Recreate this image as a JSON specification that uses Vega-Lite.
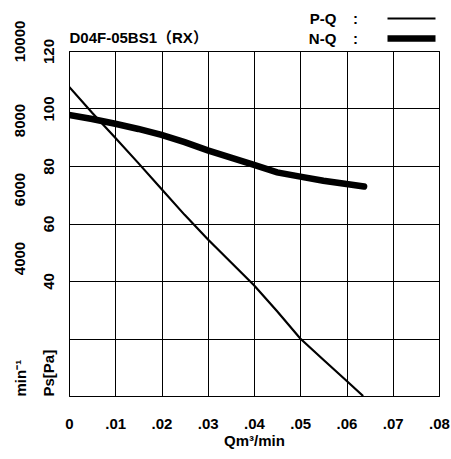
{
  "$schema": "https://vega.github.io/schema/vega-lite/v6.json",
  "autosize": {"type": "none"},
  "padding": {"left": 69, "top": 51, "right": 12, "bottom": 63},
  "width": 370,
  "height": 345,
  "background": "white",
  "config": {
    "view": {"stroke": "black", "strokeWidth": 1},
    "font": "Liberation Sans",
    "axis": {"labelFont": "Liberation Sans", "titleFont": "Liberation Sans", "labelColor": "black", "titleColor": "black"}
  },
  "datasets": {
    "pq": [
      {"q": 0, "p": 107.6, "series": "P-Q"},
      {"q": 0.005, "p": 98.5, "series": "P-Q"},
      {"q": 0.01, "p": 89.8, "series": "P-Q"},
      {"q": 0.015, "p": 81, "series": "P-Q"},
      {"q": 0.02, "p": 72, "series": "P-Q"},
      {"q": 0.025, "p": 63, "series": "P-Q"},
      {"q": 0.03, "p": 54.5, "series": "P-Q"},
      {"q": 0.035, "p": 46.5, "series": "P-Q"},
      {"q": 0.04, "p": 38.5, "series": "P-Q"},
      {"q": 0.045, "p": 29.5, "series": "P-Q"},
      {"q": 0.05, "p": 20, "series": "P-Q"},
      {"q": 0.055, "p": 12.6, "series": "P-Q"},
      {"q": 0.06, "p": 5.3, "series": "P-Q"},
      {"q": 0.0636, "p": 0, "series": "P-Q"}
    ],
    "nq": [
      {"q": 0, "rpm": 8150, "series": "N-Q"},
      {"q": 0.005, "rpm": 8030, "series": "N-Q"},
      {"q": 0.01, "rpm": 7890, "series": "N-Q"},
      {"q": 0.015, "rpm": 7740, "series": "N-Q"},
      {"q": 0.02, "rpm": 7570, "series": "N-Q"},
      {"q": 0.025, "rpm": 7360, "series": "N-Q"},
      {"q": 0.03, "rpm": 7120, "series": "N-Q"},
      {"q": 0.035, "rpm": 6910, "series": "N-Q"},
      {"q": 0.04, "rpm": 6700, "series": "N-Q"},
      {"q": 0.045, "rpm": 6480, "series": "N-Q"},
      {"q": 0.05, "rpm": 6360, "series": "N-Q"},
      {"q": 0.055, "rpm": 6240, "series": "N-Q"},
      {"q": 0.06, "rpm": 6145, "series": "N-Q"},
      {"q": 0.0638, "rpm": 6070, "series": "N-Q"}
    ]
  },
  "layer": [
    {
      "data": {"name": "pq"},
      "mark": {"type": "line", "color": "black", "clip": true},
      "encoding": {
        "x": {
          "field": "q", "type": "quantitative",
          "scale": {"domain": [0, 0.08], "nice": false, "zero": false},
          "axis": {
            "orient": "bottom",
            "values": [0, 0.01, 0.02, 0.03, 0.04, 0.05, 0.06, 0.07, 0.08],
            "labelExpr": "datum.value == 0 ? '0' : replace(format(datum.value, '.2f'), '0.', '.')",
            "title": "Qm³/min",
            "titleFontSize": 15, "titleFontWeight": "bold",
            "titleBaseline": "alphabetic", "titleY": 49,
            "labelFontSize": 15, "labelFontWeight": "bold",
            "labelBaseline": "alphabetic", "labelPadding": 32,
            "labelFlush": false, "labelOverlap": false,
            "ticks": false, "domain": false,
            "grid": true, "gridColor": "black", "gridOpacity": 1, "gridWidth": 1
          }
        },
        "y": {
          "field": "p", "type": "quantitative",
          "scale": {"domain": [0, 120], "nice": false},
          "axis": {
            "values": [0, 20, 40, 60, 80, 100, 120],
            "labelExpr": "datum.value < 40 ? '' : datum.label",
            "labelAngle": -90, "labelAlign": "center", "labelBaseline": "alphabetic",
            "labelPadding": 16, "labelFontSize": 15, "labelFontWeight": "bold",
            "labelFlush": false, "labelOverlap": false,
            "title": "Ps[Pa]", "titleAngle": -90, "titleAlign": "left", "titleBaseline": "alphabetic",
            "titleX": -16, "titleY": 345, "titleFontSize": 15, "titleFontWeight": "bold",
            "ticks": false, "domain": false,
            "grid": true, "gridColor": "black", "gridOpacity": 1, "gridWidth": 1
          }
        },
        "strokeWidth": {
          "field": "series", "type": "nominal",
          "scale": {"domain": ["P-Q", "N-Q"], "range": [2.2, 6.5]},
          "legend": {
            "orient": "none", "legendX": 331, "legendY": -42,
            "title": null,
            "symbolType": "M-3,0H3", "symbolSize": 256, "symbolStrokeColor": "black", "symbolFillColor": "transparent",
            "labelAlign": "right", "labelOffset": -65,
            "labelFontSize": 15, "labelFontWeight": "bold", "labelFont": "Liberation Sans", "labelColor": "black",
            "labelExpr": "datum.label + '\u00a0\u00a0\u00a0\u00a0:'",
            "rowPadding": -4
          }
        }
      }
    },
    {
      "data": {"name": "nq"},
      "mark": {"type": "line", "color": "black", "strokeCap": "round", "clip": true},
      "encoding": {
        "x": {
          "field": "q", "type": "quantitative",
          "axis": {
            "orient": "top",
            "labels": false, "ticks": false, "domain": false, "grid": false,
            "title": "D04F-05BS1（RX）",
            "titleFont": "Liberation Sans, Noto Sans CJK JP",
            "titleFontSize": 15, "titleFontWeight": "bold",
            "titleAnchor": "start", "titleAlign": "left", "titleBaseline": "alphabetic",
            "titleX": 0, "titleY": -9
          }
        },
        "y": {
          "field": "rpm", "type": "quantitative",
          "scale": {"domain": [0, 10000], "nice": false},
          "axis": {
            "orient": "left",
            "values": [4000, 6000, 8000, 10000],
            "format": "d",
            "labelAngle": -90, "labelAlign": "center", "labelBaseline": "alphabetic",
            "labelPadding": 45, "labelFontSize": 15, "labelFontWeight": "bold",
            "labelFlush": false, "labelOverlap": false,
            "labelOffset": {"condition": {"test": "datum.value == 10000", "value": -10}, "value": 0},
            "title": "min⁻¹", "titleAngle": -90, "titleAlign": "left", "titleBaseline": "alphabetic",
            "titleX": -44, "titleY": 345, "titleFontSize": 15, "titleFontWeight": "bold",
            "ticks": false, "domain": false, "grid": false
          }
        },
        "strokeWidth": {"field": "series", "type": "nominal"}
      }
    }
  ],
  "resolve": {"scale": {"y": "independent"}, "axis": {"x": "independent"}}
}
